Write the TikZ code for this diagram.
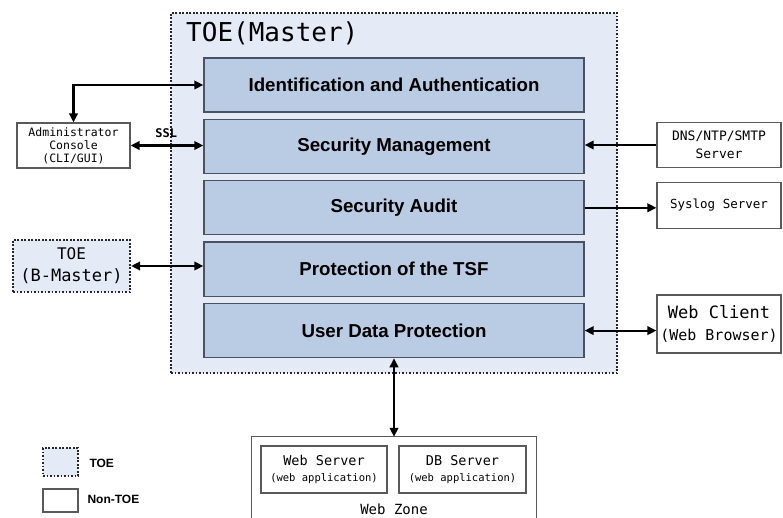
\documentclass[tikz,border=0pt]{standalone}
\usepackage{fontspec}
\setmainfont{Liberation Sans}
\setmonofont{DejaVu Sans Mono}
\usetikzlibrary{positioning,arrows.meta}
\definecolor{toefill}{RGB}{228,235,247}
\definecolor{unitfill}{RGB}{186,203,228}
\definecolor{unitline}{RGB}{72,82,98}
\definecolor{boxline}{RGB}{90,90,90}

\begin{document}
\begin{tikzpicture}[x=1pt,y=-1pt,
  toe/.style={draw=black!85,fill=toefill,line width=2.3pt,dash pattern=on 1.8pt off 1.7pt},
  unit/.style={draw=unitline,fill=unitfill,line width=1.4pt,minimum width=380pt,minimum height=54pt,font=\fontsize{18.7}{22}\selectfont\bfseries},
  nontoe/.style={draw=boxline,line width=1.2pt,fill=white,align=center,font=\ttfamily},
  arr/.style={line width=2.2pt,-{Triangle[length=9pt,width=8.5pt]}},
  dblarr/.style={line width=2.2pt,{Triangle[length=9pt,width=8.5pt]}-{Triangle[length=9pt,width=8.5pt]}}]
\useasboundingbox (0,0) rectangle (783,518);

% the TOE and its functions
\node[toe,minimum width=446pt,minimum height=360pt] (master) at (394,193) {};
\node[anchor=west,inner sep=0pt,font=\ttfamily\fontsize{26}{30}\selectfont] (mastertitle) at (186,33) {TOE(Master)};
\node[unit] (ia) at (394,85) {Identification and Authentication};
\node[unit,below=6pt of ia] (sm) {Security Management};
\node[unit,below=6pt of sm] (sa) {Security Audit};
\node[unit,below=6pt of sa] (ptsf) {Protection of the TSF};
\node[unit,below=6pt of ptsf] (udp) {User Data Protection};

% outside the TOE
\node[nontoe,minimum width=113pt,minimum height=45pt,font=\ttfamily\fontsize{11.5}{13}\selectfont] (admin) at (73.5,145.5) {Administrator\\Console\\(CLI/GUI)};
\node[toe,align=center,minimum width=117pt,minimum height=52pt,font=\ttfamily\fontsize{16}{22}\selectfont] (bmaster) at (71.5,266)
  {TOE\\\fontsize{17}{22}\selectfont(B-Master)};
\node[nontoe,minimum width=124pt,minimum height=45pt,font=\ttfamily\fontsize{13}{18}\selectfont] (dns) at (719,145) {DNS/NTP/SMTP\\Server};
\node[nontoe,minimum width=124pt,minimum height=46pt,font=\ttfamily\fontsize{12.5}{15}\selectfont] (syslog) at (719,205.5) {Syslog Server};
\node[nontoe,minimum width=124pt,minimum height=58pt,font=\ttfamily\fontsize{17}{22}\selectfont] (client) at (719,324)
  {Web Client\\\fontsize{15}{22}\selectfont(Web Browser)};

% web zone
\node[minimum width=284pt,minimum height=81pt] (zone) at (394,477.5) {};
\draw[draw=boxline,line width=1.2pt] (zone.south west) |- (zone.north east) -- (zone.south east);
\node[nontoe,minimum width=126pt,minimum height=47pt,font=\ttfamily\fontsize{13.5}{15.5}\selectfont] (websrv) at (324,469.5)
  {Web Server\\\fontsize{10.5}{15.5}\selectfont(web application)};
\node[nontoe,minimum width=127pt,minimum height=47pt,font=\ttfamily\fontsize{13.5}{15.5}\selectfont] (dbsrv) at (462.5,469.5)
  {DB Server\\\fontsize{10.5}{15.5}\selectfont(web application)};
\node[font=\ttfamily\fontsize{14}{16}\selectfont] (zonetitle) at (394,509) {Web Zone};

% connections
\draw[dblarr] (ia.west) -| (admin.north);
\draw[dblarr] (admin.east) -- (admin.east -| sm.west)
  node[pos=0.49,above=3pt,font=\ttfamily\bfseries\fontsize{12}{14}\selectfont] {SSL};
\draw[arr] (dns.west) -- (dns.west -| sm.east);
\draw[arr] (sa.east) -- (sa.east -| syslog.west);
\draw[dblarr] (bmaster.east) -- (bmaster.east -| ptsf.west);
\draw[dblarr] (udp.east) -- (udp.east -| client.west);
\draw[dblarr] (udp.south) -- (zone.north);

% legend
\node[toe,minimum width=35pt,minimum height=28pt] (legtoe) at (60.5,462) {};
\node[anchor=west,font=\bfseries\fontsize{12}{14}\selectfont] (legtoetext) at (86,463) {TOE};
\node[nontoe,minimum width=35pt,minimum height=23pt] (legnon) at (60.5,500.5) {};
\node[anchor=west,font=\bfseries\fontsize{12}{14}\selectfont] (legnontext) at (84,499) {Non-TOE};
\end{tikzpicture}
\end{document}
